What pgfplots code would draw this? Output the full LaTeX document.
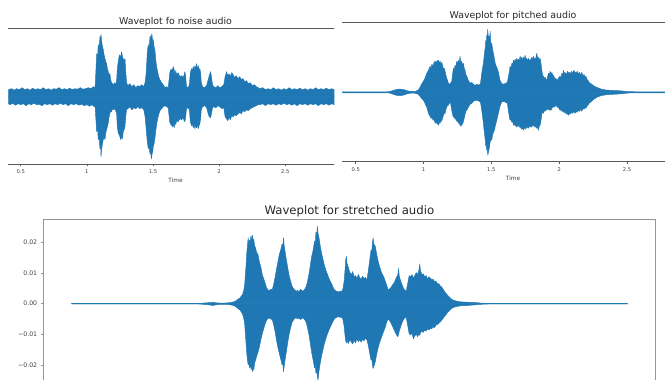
\documentclass[border=0pt]{standalone}
\usepackage{pgfplots}
\pgfplotsset{compat=1.18}
\usepackage{fontspec}
\setmainfont{DejaVu Sans}
\definecolor{wblue}{HTML}{1F77B4}
\definecolor{topspine}{HTML}{5A5A5A}
\definecolor{boxspine}{HTML}{959595}
\definecolor{ticktext}{HTML}{404040}
\pgfplotsset{
  topwave/.style={
    scale only axis,
    separate axis lines,
    x axis line style={draw=topspine, line width=0.8pt},
    y axis line style={draw=none},
    ytick=\empty,
    xtick={0.5,1,1.5,2,2.5},
    xticklabels={0.5,1,1.5,2,2.5},
    xtick pos=bottom,
    tick align=outside,
    major tick length=2.5pt,
    x tick style={draw=topspine, line width=0.5pt},
    xticklabel style={font=\fontsize{5.2}{6}\selectfont, text=ticktext},
    xlabel={Time},
    xlabel style={font=\fontsize{5.8}{7}\selectfont, text=ticktext, at={(0.5,0)}, anchor=center, yshift=-16.5pt},
    title style={font=\fontsize{9.4}{11}\selectfont, text=black!85, anchor=base, yshift=-1.8pt},
  },
  env/.style={fill=wblue, draw=wblue, line width=0.45pt, line join=round},
}
\begin{document}
\begin{tikzpicture}
\begin{scope}
\clip (0pt,0pt) rectangle (665pt,380pt);

% ---------------- top left: noise ----------------
\begin{scope}
\clip (0pt,0pt) rectangle (334.3pt,380pt);
\begin{axis}[topwave,
  at={(8.3pt,216pt)}, anchor=south west,
  width=334.4pt, height=135.7pt,
  xmin=0.406, xmax=2.934, ymin=-67.3, ymax=68.4,
  title={Waveplot fo noise audio}]
\addplot[env] coordinates {
(0.406,7) (0.43,8) (0.45,6.5) (0.47,8) (0.49,7) (0.51,9) (0.53,7) (0.55,8) (0.57,6.5) (0.59,8.5)
(0.61,7) (0.63,8) (0.65,7) (0.67,9) (0.69,7) (0.71,8) (0.73,6.5) (0.75,8) (0.77,7.5) (0.79,9)
(0.81,7) (0.83,8) (0.85,7) (0.87,8.5) (0.89,7) (0.91,8) (0.93,7.5) (0.95,9) (0.97,7.5) (0.99,8)
(1.01,9) (1.03,8) (1.05,10) (1.062,9)
(1.068,25) (1.074,43) (1.08,38) (1.086,52) (1.092,48) (1.099,60) (1.104,57) (1.107,62) (1.112,55) (1.118,50)
(1.124,47) (1.13,42) (1.137,38) (1.143,35) (1.149,33) (1.155,28) (1.162,25) (1.168,22) (1.174,23) (1.18,17)
(1.187,14) (1.193,13) (1.2,12) (1.21,14) (1.218,12) (1.225,16)
(1.23,28) (1.237,35) (1.243,40) (1.25,42) (1.256,38) (1.263,45) (1.269,40) (1.275,38) (1.282,36) (1.288,38)
(1.294,25) (1.3,14)
(1.31,11) (1.325,13) (1.34,10) (1.355,12) (1.37,9) (1.385,11) (1.40,10) (1.415,12) (1.43,10) (1.44,14) (1.447,22)
(1.451,30) (1.457,45) (1.464,52) (1.47,48) (1.477,60) (1.482,56) (1.486,63) (1.489,55) (1.493,62) (1.498,52)
(1.502,57) (1.508,50) (1.514,47) (1.52,38) (1.527,30) (1.535,25) (1.543,20) (1.552,17) (1.565,14) (1.578,12)
(1.59,9) (1.603,10) (1.615,9)
(1.622,18) (1.627,24) (1.633,27) (1.638,25) (1.643,28) (1.648,26) (1.653,30) (1.66,27) (1.666,22) (1.672,26)
(1.678,22) (1.69,24) (1.703,20) (1.716,21) (1.728,19) (1.735,22) (1.741,25) (1.747,20)
(1.753,10) (1.765,9) (1.775,12)
(1.782,24) (1.791,28) (1.797,26) (1.804,30) (1.81,27) (1.817,31) (1.823,28) (1.829,33) (1.835,28) (1.842,31)
(1.848,27) (1.854,28) (1.86,24) (1.865,14)
(1.875,10) (1.89,9) (1.905,11)
(1.917,17) (1.925,21) (1.935,25) (1.942,20) (1.95,12)
(1.96,10) (1.975,9) (1.99,11) (2.005,9) (2.02,10) (2.035,12)
(2.045,20) (2.056,25) (2.065,21) (2.075,23) (2.085,20) (2.095,24) (2.106,22) (2.118,19) (2.13,21) (2.142,18)
(2.156,20) (2.168,17) (2.18,18) (2.194,15) (2.207,16) (2.22,13) (2.235,14) (2.25,11) (2.265,12) (2.28,10) (2.295,9)
(2.31,8) (2.33,9) (2.35,7) (2.37,8) (2.39,7) (2.41,9) (2.43,7) (2.45,8) (2.47,6.5) (2.49,8)
(2.51,7) (2.53,9) (2.55,7) (2.57,8) (2.59,7) (2.61,8.5) (2.63,7) (2.65,8) (2.67,6.5) (2.69,8)
(2.71,7) (2.73,9) (2.75,7) (2.77,8) (2.79,7) (2.81,8.5) (2.83,7) (2.85,8) (2.87,7) (2.89,8) (2.91,7) (2.934,8)
} \closedcycle;
\addplot[env] coordinates {
(0.406,-7) (0.42,-8) (0.44,-6.5) (0.46,-8.5) (0.48,-7) (0.50,-8) (0.52,-7) (0.54,-9) (0.56,-7) (0.58,-8)
(0.60,-6.5) (0.62,-8) (0.64,-7.5) (0.66,-9) (0.68,-7) (0.70,-8) (0.72,-7) (0.74,-8.5) (0.76,-7) (0.78,-8)
(0.80,-6.5) (0.82,-8) (0.84,-7) (0.86,-9) (0.88,-7) (0.90,-8) (0.92,-7) (0.94,-8.5) (0.96,-7.5) (0.98,-9)
(1.00,-8) (1.02,-9.5) (1.04,-8) (1.055,-10) (1.062,-9)
(1.068,-22) (1.074,-35) (1.08,-30) (1.086,-43) (1.092,-40) (1.099,-52) (1.104,-48) (1.107,-60) (1.112,-52) (1.118,-47)
(1.124,-43) (1.13,-40) (1.137,-43) (1.143,-36) (1.149,-33) (1.155,-30) (1.162,-26) (1.168,-20) (1.174,-17) (1.18,-14)
(1.187,-15) (1.193,-12) (1.2,-13) (1.21,-12) (1.218,-14) (1.225,-17)
(1.23,-30) (1.237,-36) (1.243,-38) (1.25,-40) (1.256,-43) (1.263,-40) (1.269,-42) (1.275,-35) (1.282,-33) (1.288,-30)
(1.294,-20) (1.3,-13)
(1.31,-12) (1.325,-10) (1.34,-13) (1.355,-11) (1.37,-12) (1.385,-10) (1.40,-12) (1.415,-11) (1.43,-13) (1.44,-20) (1.447,-30)
(1.451,-37) (1.457,-45) (1.464,-52) (1.47,-50) (1.477,-57) (1.482,-55) (1.486,-60) (1.489,-62) (1.493,-57) (1.498,-55)
(1.502,-50) (1.508,-47) (1.514,-42) (1.52,-35) (1.527,-28) (1.535,-22) (1.543,-18) (1.552,-14) (1.565,-12) (1.578,-10)
(1.59,-9) (1.603,-10) (1.615,-11)
(1.622,-20) (1.627,-26) (1.633,-27) (1.638,-29) (1.643,-27) (1.648,-30) (1.653,-28) (1.66,-31) (1.666,-26) (1.672,-28)
(1.678,-24) (1.69,-25) (1.703,-22) (1.716,-23) (1.728,-21) (1.735,-24) (1.741,-25) (1.747,-20)
(1.753,-12) (1.765,-11) (1.775,-13)
(1.782,-25) (1.791,-29) (1.797,-27) (1.804,-31) (1.81,-28) (1.817,-32) (1.823,-29) (1.829,-31) (1.835,-28) (1.842,-32)
(1.848,-29) (1.854,-27) (1.86,-22) (1.865,-13)
(1.875,-10) (1.89,-9) (1.905,-11)
(1.917,-17) (1.925,-20) (1.935,-21) (1.942,-17) (1.95,-11)
(1.96,-10) (1.975,-11) (1.99,-9) (2.005,-10) (2.02,-12) (2.035,-11)
(2.045,-20) (2.056,-22) (2.065,-24) (2.075,-21) (2.085,-23) (2.095,-19) (2.106,-20) (2.118,-18) (2.13,-19) (2.142,-17)
(2.156,-16) (2.168,-17) (2.18,-14) (2.194,-15) (2.207,-13) (2.22,-14) (2.235,-12) (2.25,-11) (2.265,-10) (2.28,-9) (2.295,-8)
(2.31,-8) (2.33,-7) (2.35,-9) (2.37,-7) (2.39,-8) (2.41,-7) (2.43,-8.5) (2.45,-7) (2.47,-8) (2.49,-6.5)
(2.51,-8) (2.53,-7) (2.55,-8.5) (2.57,-7) (2.59,-9) (2.61,-7) (2.63,-8) (2.65,-7) (2.67,-8.5) (2.69,-7)
(2.71,-8) (2.73,-7) (2.75,-9) (2.77,-7) (2.79,-8) (2.81,-7) (2.83,-8.5) (2.85,-7) (2.87,-8) (2.89,-7) (2.91,-8.5) (2.934,-7)
} \closedcycle;
\end{axis}
\end{scope}

% ---------------- top right: pitched ----------------
\begin{axis}[topwave,
  at={(342.3pt,218.3pt)}, anchor=south west,
  width=341.4pt, height=139pt,
  xmin=0.401, xmax=2.918, ymin=-69.4, ymax=69.6,
  title={Waveplot for pitched audio}]
\addplot[env] coordinates {
(0.401,0.5) (0.74,0.5) (0.76,1.2) (0.78,2) (0.80,2.8) (0.82,3.2) (0.84,3) (0.86,2.5) (0.88,1.5) (0.90,1)
(0.92,0.8) (0.94,1) (0.96,2) (0.974,5) (0.985,8) (0.999,11) (1.01,14) (1.024,19) (1.036,22) (1.048,26)
(1.055,24) (1.062,28) (1.07,26) (1.078,30) (1.085,31) (1.092,29) (1.1,32) (1.105,30) (1.11,32) (1.117,29)
(1.122,31) (1.128,28) (1.134,30) (1.14,27) (1.147,23) (1.153,24) (1.159,21) (1.165,17) (1.171,14) (1.177,12)
(1.183,9) (1.19,8) (1.198,9) (1.208,11) (1.214,18) (1.22,24) (1.226,22) (1.232,27) (1.238,25) (1.245,31)
(1.25,28) (1.256,32) (1.262,29) (1.269,36) (1.274,30) (1.281,31) (1.288,27) (1.294,29) (1.3,24) (1.306,22)
(1.312,18) (1.319,16) (1.33,12) (1.343,9) (1.355,10) (1.368,8) (1.38,7) (1.395,8) (1.41,7) (1.42,9)
(1.429,19) (1.436,25) (1.442,30) (1.449,39) (1.455,45) (1.459,52) (1.463,48) (1.466,57) (1.47,55) (1.473,63)
(1.476,58) (1.48,53) (1.483,56) (1.487,52) (1.491,61) (1.495,50) (1.499,49) (1.503,49) (1.508,44) (1.515,39)
(1.522,34) (1.53,28) (1.54,25) (1.55,21) (1.564,12) (1.575,9) (1.59,8) (1.605,9) (1.618,10) (1.626,16)
(1.632,20) (1.638,26) (1.645,24) (1.651,29) (1.657,28) (1.663,32) (1.669,30) (1.675,33) (1.681,31) (1.688,34)
(1.694,31) (1.7,33) (1.706,32) (1.712,36) (1.718,33) (1.724,35) (1.73,32) (1.736,35) (1.742,33) (1.749,37)
(1.755,33) (1.761,34) (1.767,31) (1.773,34) (1.779,31) (1.785,33) (1.792,32) (1.798,35) (1.804,32) (1.81,36)
(1.816,34) (1.823,33) (1.829,35) (1.835,39) (1.841,34) (1.847,35) (1.853,32) (1.859,34) (1.865,30) (1.872,22)
(1.878,17) (1.884,16) (1.89,14) (1.897,15) (1.903,13) (1.909,12) (1.915,16) (1.921,19) (1.927,17) (1.933,21)
(1.94,18) (1.946,20) (1.952,17) (1.958,17) (1.964,15) (1.97,13) (1.976,14) (1.982,12) (1.99,13) (1.998,15)
(2.007,16) (2.013,14) (2.019,19) (2.025,17) (2.031,22) (2.037,18) (2.043,20) (2.05,18) (2.056,19) (2.062,21)
(2.068,19) (2.075,20) (2.081,18) (2.09,21) (2.1,19) (2.108,22) (2.117,20) (2.125,19) (2.133,21) (2.142,18)
(2.15,20) (2.158,17) (2.167,20) (2.175,16) (2.183,18) (2.19,15) (2.198,16) (2.204,13) (2.212,12) (2.22,10)
(2.23,9) (2.24,8) (2.25,7) (2.26,6) (2.277,5) (2.295,4) (2.314,3) (2.35,2.2) (2.4,1.8) (2.45,1.5)
(2.486,1) (2.52,0.6) (2.6,0.5) (2.918,0.5)
} \closedcycle;
\addplot[env] coordinates {
(0.401,-0.5) (0.74,-0.5) (0.76,-1.2) (0.78,-2.2) (0.80,-3) (0.82,-3.4) (0.84,-3.2) (0.86,-2.5) (0.88,-1.5) (0.90,-1)
(0.92,-0.8) (0.94,-1) (0.96,-2) (0.974,-4) (0.985,-6) (0.999,-8) (1.01,-11) (1.024,-15) (1.036,-21) (1.048,-24)
(1.055,-26) (1.062,-25) (1.07,-28) (1.078,-27) (1.085,-31) (1.092,-29) (1.1,-32) (1.105,-30) (1.11,-33) (1.117,-30)
(1.122,-31) (1.128,-28) (1.134,-29) (1.14,-26) (1.147,-23) (1.153,-21) (1.159,-21) (1.165,-17) (1.171,-15) (1.177,-13)
(1.183,-13) (1.19,-11) (1.198,-10) (1.208,-18) (1.214,-22) (1.22,-25) (1.226,-24) (1.232,-27) (1.238,-26) (1.245,-29)
(1.25,-28) (1.256,-31) (1.262,-30) (1.269,-33) (1.277,-34) (1.283,-31) (1.288,-32) (1.294,-29) (1.3,-26) (1.306,-22)
(1.312,-19) (1.319,-18) (1.33,-15) (1.343,-12) (1.355,-11) (1.368,-9) (1.38,-8) (1.395,-8) (1.41,-9) (1.42,-10)
(1.429,-18) (1.436,-25) (1.442,-32) (1.449,-41) (1.455,-48) (1.459,-54) (1.463,-50) (1.466,-58) (1.47,-56) (1.474,-63)
(1.478,-60) (1.483,-57) (1.487,-54) (1.491,-50) (1.495,-48) (1.499,-46) (1.503,-48) (1.508,-43) (1.515,-40) (1.523,-38)
(1.53,-33) (1.54,-28) (1.55,-22) (1.564,-14) (1.575,-10) (1.59,-9) (1.605,-10) (1.618,-11) (1.626,-19) (1.632,-24)
(1.638,-28) (1.645,-27) (1.651,-30) (1.657,-29) (1.663,-33) (1.669,-31) (1.675,-34) (1.681,-32) (1.688,-35) (1.694,-33)
(1.7,-34) (1.706,-33) (1.712,-36) (1.718,-34) (1.724,-37) (1.73,-35) (1.736,-38) (1.742,-35) (1.749,-37) (1.755,-34)
(1.761,-36) (1.767,-34) (1.773,-36) (1.779,-33) (1.785,-35) (1.792,-33) (1.798,-35) (1.804,-32) (1.81,-34) (1.816,-33)
(1.823,-35) (1.829,-34) (1.835,-36) (1.841,-35) (1.847,-38) (1.853,-34) (1.859,-33) (1.865,-29) (1.872,-22) (1.878,-19)
(1.884,-21) (1.89,-18) (1.897,-19) (1.903,-17) (1.909,-18) (1.915,-16) (1.921,-17) (1.927,-18) (1.933,-17) (1.94,-18)
(1.946,-16) (1.952,-15) (1.958,-14) (1.964,-15) (1.97,-14) (1.976,-13) (1.982,-14) (1.99,-15) (1.998,-16) (2.007,-18)
(2.013,-17) (2.019,-19) (2.025,-18) (2.031,-20) (2.037,-19) (2.043,-21) (2.05,-20) (2.056,-22) (2.062,-21) (2.068,-23)
(2.075,-21) (2.081,-22) (2.09,-20) (2.1,-21) (2.108,-19) (2.117,-21) (2.125,-19) (2.133,-20) (2.142,-18) (2.15,-19)
(2.158,-17) (2.167,-19) (2.175,-16) (2.183,-17) (2.19,-15) (2.198,-16) (2.204,-14) (2.212,-13) (2.22,-11) (2.23,-10)
(2.24,-9) (2.25,-7.5) (2.26,-6.5) (2.277,-5) (2.295,-4) (2.314,-3.2) (2.35,-2.4) (2.4,-2) (2.45,-1.6) (2.486,-1.1)
(2.52,-0.6) (2.6,-0.5) (2.918,-0.5)
} \closedcycle;
\end{axis}

% ---------------- bottom: stretched ----------------
\begin{axis}[
  scale only axis,
  at={(43.7pt,161pt)}, anchor=north west,
  width=611.3pt, height=169.4pt,
  xmin=-0.198, xmax=4.131, ymin=-0.0277, ymax=0.0277,
  axis line style={draw=boxspine, line width=0.9pt},
  xtick=\empty,
  ytick={-0.02,-0.01,0,0.01,0.02},
  yticklabels={−0.02,−0.01,0.00,0.01,0.02},
  scaled y ticks=false,
  ytick pos=left,
  tick align=outside,
  major tick length=3pt,
  y tick style={draw=boxspine, line width=0.5pt},
  yticklabel style={font=\fontsize{6.2}{7}\selectfont, text=ticktext},
  title={Waveplot for stretched audio},
  title style={font=\fontsize{11.7}{13}\selectfont, text=black!85, anchor=base, yshift=-2pt},
]
\addplot[env] coordinates {
(0,0.0001) (0.9,0.0001) (0.93,0.0002) (0.96,0.0003) (0.99,0.0004) (1.0,0.0005) (1.02,0.0003) (1.05,0.0002) (1.08,0.0002) (1.11,0.0003)
(1.14,0.0005) (1.16,0.0008) (1.175,0.0014) (1.19,0.0018) (1.2,0.0024) (1.21,0.003) (1.218,0.0042) (1.225,0.006) (1.23,0.0095) (1.235,0.0125)
(1.24,0.0165) (1.245,0.019) (1.25,0.0215) (1.255,0.0195) (1.26,0.0208) (1.265,0.0205) (1.27,0.0222) (1.275,0.0200) (1.28,0.0225) (1.285,0.0198)
(1.29,0.0212) (1.295,0.0190) (1.30,0.0185) (1.31,0.0168) (1.32,0.0160) (1.33,0.0135) (1.34,0.012) (1.35,0.0095) (1.36,0.0082) (1.37,0.0068)
(1.38,0.0052) (1.39,0.0046) (1.40,0.0042) (1.41,0.0048) (1.42,0.0045) (1.43,0.0062) (1.44,0.0085) (1.45,0.0112) (1.46,0.0135) (1.47,0.0160)
(1.48,0.0175) (1.49,0.0195) (1.495,0.0185) (1.50,0.0215) (1.505,0.019) (1.51,0.0175) (1.52,0.0145) (1.53,0.0118) (1.54,0.0092) (1.55,0.0075)
(1.56,0.0058) (1.57,0.0050) (1.58,0.0045) (1.59,0.0040) (1.60,0.0044) (1.61,0.0038) (1.62,0.0048) (1.63,0.0043) (1.64,0.0041) (1.65,0.0047)
(1.66,0.0055) (1.67,0.0072) (1.68,0.0095) (1.69,0.0125) (1.70,0.0155) (1.71,0.0175) (1.72,0.0205) (1.725,0.0195) (1.73,0.0235) (1.735,0.0215)
(1.74,0.0254) (1.745,0.0228) (1.75,0.0220) (1.755,0.0205) (1.76,0.0190) (1.77,0.0165) (1.78,0.0145) (1.79,0.0125) (1.80,0.0110) (1.81,0.0098)
(1.82,0.0085) (1.83,0.0075) (1.84,0.0066) (1.85,0.0055) (1.86,0.0046) (1.87,0.0042) (1.88,0.0040) (1.89,0.0038) (1.90,0.0041) (1.91,0.0040)
(1.92,0.0046) (1.93,0.0075) (1.935,0.0105) (1.94,0.0140) (1.945,0.0155) (1.95,0.0132) (1.96,0.0118) (1.97,0.0102) (1.98,0.0095) (1.99,0.0105)
(2.00,0.0088) (2.01,0.0092) (2.02,0.0082) (2.03,0.0096) (2.04,0.0085) (2.05,0.0080) (2.06,0.0090) (2.07,0.0082) (2.08,0.0086) (2.09,0.0076)
(2.10,0.0105) (2.11,0.0140) (2.12,0.0175) (2.125,0.0168) (2.13,0.0200) (2.135,0.0215) (2.14,0.0195) (2.15,0.0188) (2.16,0.0162) (2.17,0.0140)
(2.18,0.0122) (2.19,0.0108) (2.20,0.0096) (2.21,0.0088) (2.22,0.0075) (2.23,0.0062) (2.24,0.0046) (2.25,0.0048) (2.26,0.0052) (2.27,0.0060)
(2.28,0.0066) (2.29,0.0075) (2.30,0.0086) (2.31,0.0095) (2.315,0.0115) (2.32,0.0090) (2.33,0.0074) (2.34,0.0062) (2.35,0.0050) (2.36,0.0044)
(2.37,0.0040) (2.375,0.0055) (2.385,0.0078) (2.39,0.0092) (2.40,0.0088) (2.41,0.0095) (2.42,0.0084) (2.43,0.0092) (2.44,0.0102) (2.45,0.0095)
(2.46,0.0112) (2.465,0.0130) (2.47,0.0108) (2.48,0.0095) (2.49,0.0098) (2.50,0.0088) (2.51,0.0092) (2.52,0.0080) (2.53,0.0088) (2.54,0.0084)
(2.55,0.0078) (2.56,0.0080) (2.57,0.0072) (2.58,0.0074) (2.59,0.0066) (2.60,0.0065) (2.61,0.0058) (2.62,0.0055) (2.63,0.0048) (2.64,0.0040)
(2.65,0.0034) (2.66,0.0029) (2.67,0.0024) (2.68,0.0019) (2.69,0.0015) (2.70,0.0012) (2.72,0.0009) (2.75,0.0006) (2.8,0.0005) (2.85,0.0004)
(2.9,0.0002) (2.95,0.0001) (3.936,0.0001)
} \closedcycle;
\addplot[env] coordinates {
(0,-0.0001) (0.9,-0.0001) (0.93,-0.0002) (0.96,-0.0003) (0.99,-0.0005) (1.0,-0.0006) (1.02,-0.0004) (1.05,-0.0002) (1.08,-0.0002) (1.11,-0.0003)
(1.14,-0.0005) (1.16,-0.0009) (1.175,-0.0015) (1.19,-0.002) (1.2,-0.0026) (1.21,-0.0034) (1.218,-0.0046) (1.225,-0.0065) (1.23,-0.0098) (1.235,-0.0130)
(1.24,-0.0162) (1.245,-0.0185) (1.25,-0.0200) (1.255,-0.0192) (1.26,-0.0210) (1.265,-0.0198) (1.27,-0.0215) (1.275,-0.0205) (1.28,-0.0222) (1.285,-0.0205)
(1.29,-0.0218) (1.295,-0.0195) (1.30,-0.0188) (1.31,-0.0172) (1.32,-0.0158) (1.33,-0.0140) (1.34,-0.0118) (1.35,-0.0098) (1.36,-0.0082) (1.37,-0.0066)
(1.38,-0.0055) (1.39,-0.0048) (1.40,-0.0047) (1.41,-0.0050) (1.42,-0.0052) (1.43,-0.0068) (1.44,-0.0090) (1.45,-0.0118) (1.46,-0.0142) (1.47,-0.0162)
(1.48,-0.0180) (1.49,-0.0200) (1.495,-0.0192) (1.50,-0.0222) (1.505,-0.0205) (1.51,-0.0188) (1.52,-0.0158) (1.53,-0.0128) (1.54,-0.0100) (1.55,-0.0080)
(1.56,-0.0062) (1.57,-0.0054) (1.58,-0.0048) (1.59,-0.0046) (1.60,-0.0050) (1.61,-0.0046) (1.62,-0.0052) (1.63,-0.0048) (1.64,-0.0047) (1.65,-0.0052)
(1.66,-0.0060) (1.67,-0.0078) (1.68,-0.0100) (1.69,-0.0130) (1.70,-0.0160) (1.71,-0.0185) (1.72,-0.0210) (1.725,-0.0200) (1.73,-0.0228) (1.735,-0.0215)
(1.74,-0.0240) (1.745,-0.0250) (1.75,-0.0225) (1.755,-0.0210) (1.76,-0.0195) (1.77,-0.0170) (1.78,-0.0150) (1.79,-0.0130) (1.80,-0.0115) (1.81,-0.0100)
(1.82,-0.0088) (1.83,-0.0078) (1.84,-0.0068) (1.85,-0.0058) (1.86,-0.0050) (1.87,-0.0046) (1.88,-0.0044) (1.89,-0.0042) (1.90,-0.0045) (1.91,-0.0043)
(1.92,-0.0050) (1.93,-0.0075) (1.935,-0.0100) (1.94,-0.0120) (1.945,-0.0128) (1.95,-0.0122) (1.96,-0.0130) (1.97,-0.0118) (1.98,-0.0125) (1.99,-0.0132)
(2.00,-0.0120) (2.01,-0.0128) (2.02,-0.0115) (2.03,-0.0124) (2.04,-0.0118) (2.05,-0.0126) (2.06,-0.0116) (2.07,-0.0122) (2.08,-0.0112) (2.09,-0.0118)
(2.10,-0.0135) (2.11,-0.0160) (2.12,-0.0185) (2.125,-0.0175) (2.13,-0.0200) (2.135,-0.0212) (2.14,-0.0205) (2.15,-0.0190) (2.16,-0.0165) (2.17,-0.0145)
(2.18,-0.0128) (2.19,-0.0115) (2.20,-0.0102) (2.21,-0.0090) (2.22,-0.0078) (2.23,-0.0062) (2.24,-0.0050) (2.25,-0.0055) (2.26,-0.0062) (2.27,-0.0072)
(2.28,-0.0082) (2.29,-0.0092) (2.30,-0.0102) (2.31,-0.0108) (2.315,-0.0100) (2.32,-0.0090) (2.33,-0.0075) (2.34,-0.0062) (2.35,-0.0052) (2.36,-0.0046)
(2.37,-0.0044) (2.375,-0.0060) (2.385,-0.0085) (2.39,-0.0098) (2.40,-0.0102) (2.41,-0.0096) (2.42,-0.0115) (2.43,-0.0105) (2.44,-0.0100) (2.45,-0.0108)
(2.46,-0.0098) (2.465,-0.0104) (2.47,-0.0095) (2.48,-0.0090) (2.49,-0.0094) (2.50,-0.0086) (2.51,-0.0090) (2.52,-0.0082) (2.53,-0.0086) (2.54,-0.0080)
(2.55,-0.0082) (2.56,-0.0076) (2.57,-0.0078) (2.58,-0.0070) (2.59,-0.0068) (2.60,-0.0064) (2.61,-0.0060) (2.62,-0.0054) (2.63,-0.0048) (2.64,-0.0042)
(2.65,-0.0036) (2.66,-0.0030) (2.67,-0.0025) (2.68,-0.0020) (2.69,-0.0016) (2.70,-0.0013) (2.72,-0.0010) (2.75,-0.0007) (2.8,-0.0006) (2.85,-0.0004)
(2.9,-0.0002) (2.95,-0.0001) (3.936,-0.0001)
} \closedcycle;
\end{axis}
\end{scope}
\pgfresetboundingbox
\path[use as bounding box] (0pt,0pt) rectangle (665pt,380pt);
\end{tikzpicture}
\end{document}
